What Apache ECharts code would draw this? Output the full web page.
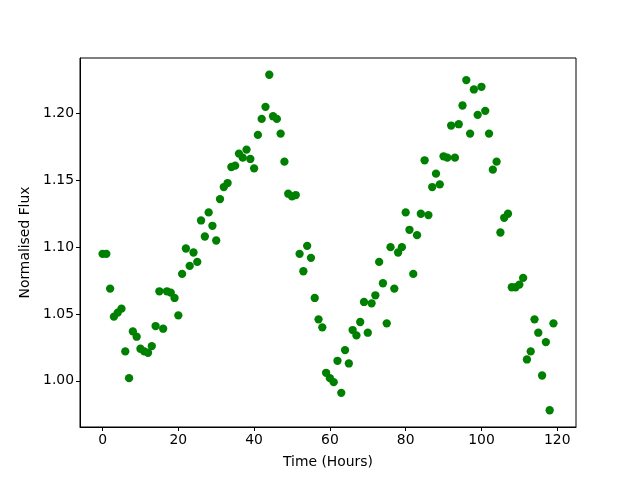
<!DOCTYPE html>
<html lang="en">
<head>
    <meta charset="UTF-8">
    <title>Normalised Flux</title>
    <script src="https://cdn.jsdelivr.net/npm/echarts@6/dist/echarts.min.js"></script>
    <style>
        html, body { margin: 0; padding: 0; background: #fff; }
        #chart { width: 640px; height: 480px; }
    </style>
</head>
<body>
<div id="chart"></div>
<script>
    // time in hours, one reading per hour
    var hours = [];
    for (var h = 0; h < 120; h++) hours.push(h);

    // flux values
    var flux = [
        1.095, 1.095, 1.069, 1.048, 1.051, 1.054, 1.022, 1.002, 1.037, 1.033,
        1.024, 1.022, 1.021, 1.026, 1.041, 1.067, 1.039, 1.067, 1.066, 1.062,
        1.049, 1.080, 1.099, 1.086, 1.096, 1.089, 1.120, 1.108, 1.126, 1.116,
        1.105, 1.136, 1.145, 1.148, 1.160, 1.161, 1.170, 1.167, 1.173, 1.166,
        1.159, 1.184, 1.196, 1.205, 1.229, 1.198, 1.196, 1.185, 1.164, 1.140,
        1.138, 1.139, 1.095, 1.082, 1.101, 1.092, 1.062, 1.046, 1.040, 1.006,
        1.002, 0.999, 1.015, 0.991, 1.023, 1.013, 1.038, 1.034, 1.044, 1.059,
        1.036, 1.058, 1.064, 1.089, 1.073, 1.043, 1.100, 1.069, 1.096, 1.100,
        1.126, 1.113, 1.080, 1.109, 1.125, 1.165, 1.124, 1.145, 1.155, 1.147,
        1.168, 1.167, 1.191, 1.167, 1.192, 1.206, 1.225, 1.185, 1.218, 1.199,
        1.220, 1.202, 1.185, 1.158, 1.164, 1.111, 1.122, 1.125, 1.070, 1.070,
        1.072, 1.077, 1.016, 1.022, 1.046, 1.036, 1.004, 1.029, 0.978, 1.043
    ];

    var xTicks = [0, 20, 40, 60, 80, 100, 120];
    var yTicks = [1.00, 1.05, 1.10, 1.15, 1.20];

    var points = hours.map(function (t, i) { return [t, flux[i]]; });

    // matplotlib style 5% padding around the data
    var xMin = Math.min.apply(null, hours), xMax = Math.max.apply(null, hours);
    var yMin = Math.min.apply(null, flux), yMax = Math.max.apply(null, flux);
    var xPad = (xMax - xMin) * 0.05, yPad = (yMax - yMin) * 0.05;

    var font = 'DejaVu Sans';
    var chart = echarts.init(document.getElementById('chart'), null, { renderer: 'canvas' });
    chart.setOption({
        animation: false,
        backgroundColor: '#fff',
        grid: {
            left: 80, right: 64, top: 58, bottom: 53,
            show: true, borderColor: '#000', borderWidth: 1, backgroundColor: 'transparent'
        },
        xAxis: {
            type: 'value',
            min: xMin - xPad,
            max: xMax + xPad,
            name: 'Time (Hours)',
            nameLocation: 'middle',
            nameGap: 28,
            nameTextStyle: { fontFamily: font, fontSize: 13.9, color: '#000', verticalAlign: 'top' },
            splitLine: { show: false },
            axisLine: { show: true, onZero: false, lineStyle: { color: '#000', width: 1 } },
            axisTick: { show: true, length: 4, lineStyle: { color: '#000' }, customValues: xTicks },
            axisLabel: {
                fontFamily: font, fontSize: 13.9, color: '#000', margin: 6,
                customValues: xTicks
            }
        },
        yAxis: {
            type: 'value',
            min: yMin - yPad,
            max: yMax + yPad,
            name: 'Normalised Flux',
            nameLocation: 'middle',
            nameGap: 47,
            nameTextStyle: { fontFamily: font, fontSize: 13.9, color: '#000' },
            splitLine: { show: false },
            axisLine: { show: true, onZero: false, lineStyle: { color: '#000', width: 1 } },
            axisTick: { show: true, length: 4, lineStyle: { color: '#000' }, customValues: yTicks },
            axisLabel: {
                fontFamily: font, fontSize: 13.9, color: '#000', margin: 6,
                customValues: yTicks,
                formatter: function (v) { return v.toFixed(2); }
            }
        },
        series: [{
            type: 'scatter',
            data: points,
            symbol: 'circle',
            symbolSize: 8.3,
            itemStyle: { color: '#008000', opacity: 1 }
        }]
    });
</script>
</body>
</html>
